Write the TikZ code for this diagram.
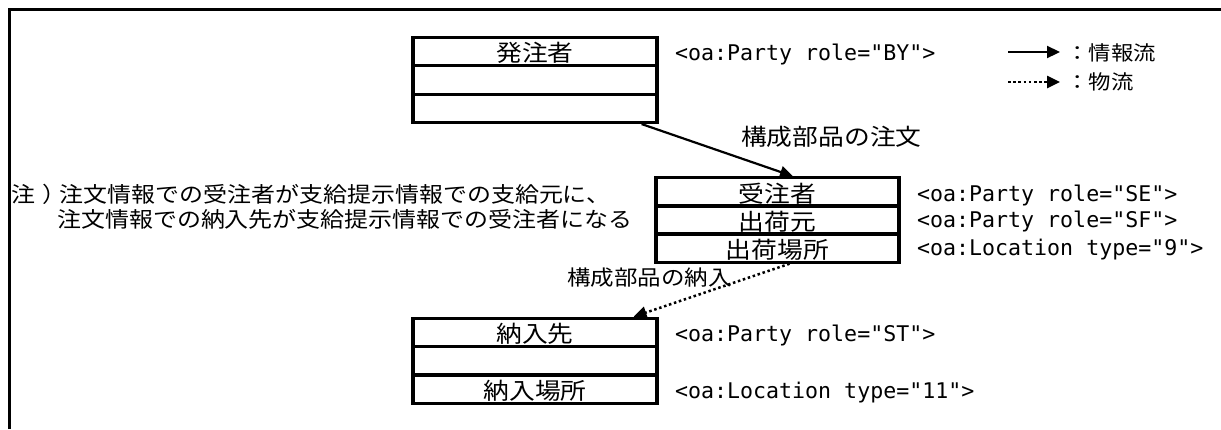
\documentclass[tikz,border=0pt]{standalone}
\usepackage{fontspec}
\setmainfont[FakeStretch=1.12]{Noto Sans CJK JP}
\newfontfamily\monofnt{DejaVu Sans Mono}
\usetikzlibrary{arrows.meta}
\begin{document}
\begin{tikzpicture}[x=1pt,y=-1pt,
  row/.style={draw, line width=3.2pt, minimum width=244pt, minimum height=28.3pt,
    inner sep=0pt, font=\fontsize{23}{23}\selectfont, text height=21.8pt, text depth=1.2pt},
  tag/.style={anchor=west, inner sep=0pt, font=\monofnt\fontsize{21.6}{22}\selectfont,
    text height=18.6pt, text depth=3.1pt},
  lbl/.style={anchor=west, inner sep=0pt},
  info/.style={line width=2.2pt, -{Triangle[length=13pt,width=12pt]}},
  goods/.style={line width=2.5pt, dash pattern=on 2.5pt off 2.7pt, -{Triangle[length=13pt,width=12pt]}}]
\useasboundingbox (0,0) rectangle (1221,429);
% frame
\draw[line width=3.2pt] (9.5,429) -- (9.5,9.5) -- (1221,9.5);
% box 1
\node[row] (b1a) at (535,51.5) {発注者};
\node[row] (b1b) at (535,80) {};
\node[row] (b1c) at (535,108.3) {};
% box 2
\node[row, minimum width=243pt] (b2a) at (777.5,192) {受注者};
\node[row, minimum width=243pt] (b2b) at (777.5,220) {出荷元};
\node[row, minimum width=243pt] (b2c) at (777.5,248) {出荷場所};
% box 3
\node[row] (b3a) at (535,332.5) {納入先};
\node[row] (b3b) at (535,361) {};
\node[row] (b3c) at (535,389) {納入場所};
% tags
\node[tag] (t1) at (675,52.5) {<oa:Party role="BY">};
\node[tag] (t2) at (917,193.5) {<oa:Party role="SE">};
\node[tag] (t3) at (917,220) {<oa:Party role="SF">};
\node[tag] (t4) at (917,248) {<oa:Location type="9">};
\node[tag] (t5) at (675,334) {<oa:Party role="ST">};
\node[tag] (t6) at (675,390.5) {<oa:Location type="11">};
% connectors
\draw[info] ([xshift=-17pt]b1c.south east) -- ([xshift=15.5pt]b2a.north);
\draw[goods] ([xshift=12pt]b2c.south) -- ([xshift=-25pt]b3a.north east);
% labels
\node[lbl, font=\fontsize{23}{23}\selectfont, text height=20.2pt, text depth=2.8pt] (l1) at (741,136.5) {構成部品の注文};
\node[lbl, font=\fontsize{21}{21}\selectfont, text height=18.5pt, text depth=2.5pt] (l2) at (567,277) {構成部品の納入};
% note
\node[lbl, font=\fontsize{21.4}{21.4}\selectfont, text height=18.8pt, text depth=2.6pt] (n1) at (11.5,194) {注\kern7pt）\kern-7pt注文情報での受注者が支給提示情報での支給元に、};
\node[lbl, font=\fontsize{21.4}{21.4}\selectfont, text height=18.8pt, text depth=2.6pt] (n2) at (57,219) {注文情報での納入先が支給提示情報での受注者になる};
% legend
\coordinate (g1s) at (1008,52);
\coordinate (g1e) at (1060,52);
\coordinate (g2s) at (1008,82);
\coordinate (g2e) at (1060,82);
\draw[info] (g1s) -- (g1e);
\draw[goods] (g2s) -- (g2e);
\node[lbl, font=\fontsize{20}{20}\selectfont, text height=17.6pt, text depth=2.4pt] (k1) at (1066,52.5) {：情報流};
\node[lbl, font=\fontsize{20}{20}\selectfont, text height=17.6pt, text depth=2.4pt] (k2) at (1066,81.5) {：物流};
\end{tikzpicture}
\end{document}
